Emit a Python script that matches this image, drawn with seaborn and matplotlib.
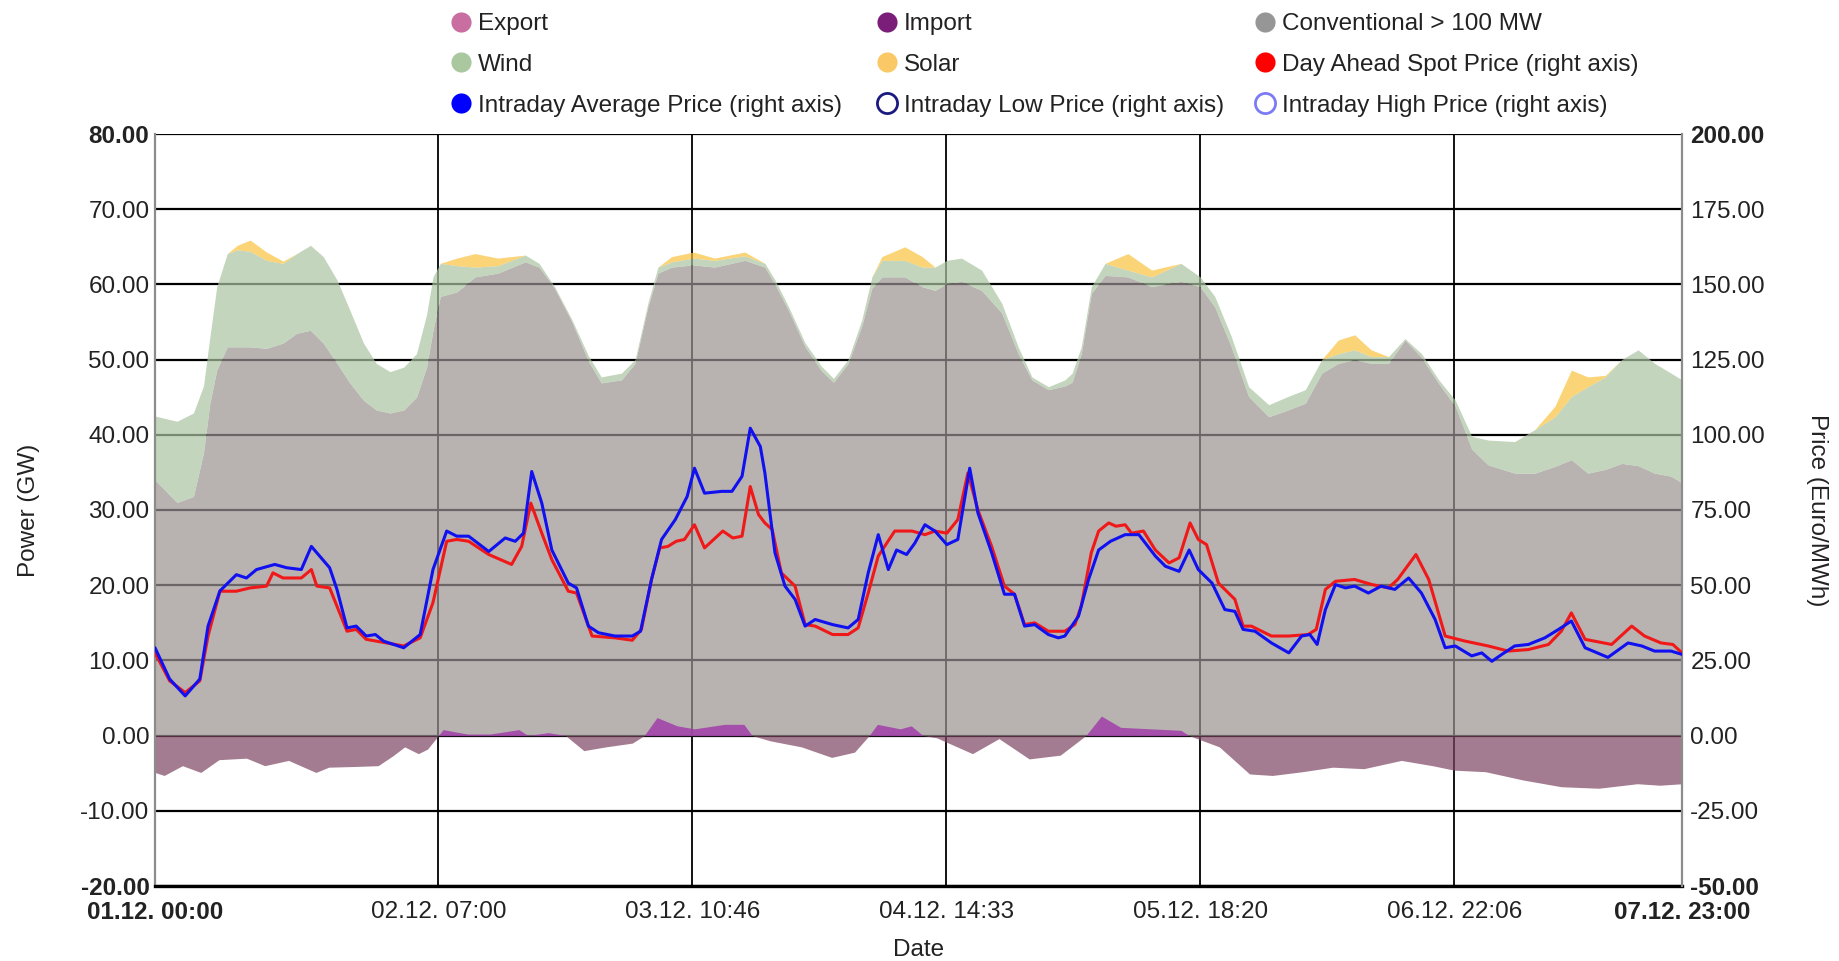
import numpy as np
import matplotlib
matplotlib.use("Agg")
import matplotlib.pyplot as plt
from matplotlib.lines import Line2D
import seaborn as sns

# ---------------- data ----------------
area_hours = [0, 2.4, 4.2, 5.3, 6, 6.75, 7.9, 9, 10.4, 12.2, 14, 15.5, 17, 18.4, 19.9, 21.3, 22.8,
              24.2, 25.7, 27.2, 28.6, 29.7, 30.4, 31.2, 33, 35, 37.5, 40.5, 42, 43.7, 45.6, 47.4,
              48.8, 51, 52.5, 53.9, 55, 56.5, 58.9, 61.2, 64.5, 66.7, 67.8, 69.3, 71.1, 72.9, 74.2,
              75.8, 77.3, 78.4, 79.5, 82, 83.9, 85.3, 86.6, 88.2, 90.4, 92.6, 94.4, 95.9, 97.7,
              99.5, 100.3, 101.3, 102.4, 103.9, 106.4, 109, 112.2, 114.3, 115.9, 117.7, 119.6,
              121.8, 123.9, 125.8, 127.6, 129.4, 131.2, 133, 134.9, 136.7, 138.5, 140.4, 142.2,
              144, 145.8, 148.7, 150.9, 153.1, 154.9, 156.7, 158.6, 160.4, 162.2, 164, 165.8, 167]
conventional = [34.0, 31.0, 31.8, 37.6, 44.2, 48.6, 51.7, 51.7, 51.7, 51.5, 52.2, 53.5, 53.9, 52.2, 49.5,
                46.9, 44.6, 43.3, 42.9, 43.3, 45.0, 49.0, 53.9, 58.4, 59.0, 61.0, 61.5, 63.0, 62.3,
                59.5, 55.0, 49.8, 46.9, 47.3, 49.5, 57.0, 61.5, 62.3, 62.6, 62.3, 63.2, 62.3, 60.0,
                56.5, 51.7, 48.5, 47.0, 49.5, 54.5, 59.5, 61.0, 61.0, 59.7, 59.2, 60.1, 60.4, 59.2,
                56.2, 50.8, 47.3, 46.0, 46.5, 47.0, 50.8, 58.8, 61.2, 61.0, 59.7, 60.4, 59.7, 57.0,
                51.7, 45.1, 42.4, 43.3, 44.2, 48.2, 49.5, 50.0, 49.5, 49.5, 52.6, 50.3, 46.8, 43.8,
                38.1, 36.0, 34.9, 34.9, 35.8, 36.7, 34.9, 35.4, 36.2, 35.9, 34.9, 34.5, 33.6]
wind = [8.5, 10.8, 11.1, 8.9, 8.8, 11.1, 12.4, 12.9, 12.7, 11.7, 10.6, 10.6, 11.3, 11.5, 11.1, 9.7,
        7.6, 6.2, 5.5, 5.7, 5.8, 7.0, 7.1, 4.4, 3.5, 1.3, 1.0, 0.9, 0.5, 0.2, 0.3, 0.7, 0.8, 0.9,
        0.5, 0.5, 0.8, 0.7, 0.9, 0.9, 0.6, 0.5, 0.6, 0.5, 0.5, 0.6, 0.5, 0.5, 0.8, 1.5, 2.2, 2.2,
        2.6, 3.1, 3.1, 3.1, 2.7, 1.3, 0.9, 0.4, 0.4, 0.8, 1.2, 0.9, 0.9, 1.6, 0.9, 1.3, 2.4, 1.3,
        1.4, 1.4, 1.3, 1.6, 1.8, 1.8, 1.8, 1.3, 1.3, 0.9, 0.9, 0.2, 0.5, 0.5, 0.8, 1.7, 3.3, 4.2,
        5.8, 6.6, 8.4, 11.5, 12.3, 13.8, 15.4, 14.6, 13.7, 13.7]
solar = [0, 0, 0, 0, 0, 0, 0, 0.6, 1.5, 1.1, 0.3, 0, 0, 0, 0, 0, 0, 0, 0, 0, 0, 0, 0, 0, 1.0, 1.8,
         1.0, 0, 0, 0, 0, 0, 0, 0, 0, 0, 0, 0.7, 0.8, 0.3, 0.5, 0, 0, 0, 0, 0, 0, 0, 0, 0, 0.5, 1.8,
         1.4, 0, 0, 0, 0, 0, 0, 0, 0, 0, 0, 0, 0, 0, 2.2, 0.9, 0, 0, 0, 0, 0, 0, 0, 0, 0, 1.8, 2.0,
         0.9, 0, 0, 0, 0, 0, 0, 0, 0, 0, 1.4, 3.5, 1.3, 0.2, 0, 0, 0, 0, 0]

flow_hours = [0, 1, 3, 5, 7, 10, 12, 14.6, 17.6, 19, 22, 24.4, 26, 27.3, 28.8, 29.8, 31, 31.5, 34.2,
              36.6, 39.8, 40.8, 43, 44.9, 46.9, 49.3, 52.2, 53.5, 54.9, 57.1, 59, 62.3, 64.4, 65.3,
              67.3, 70.7, 74, 76.5, 78.1, 79, 81.5, 82.7, 84, 85.5, 89.4, 92.3, 95.6, 99, 101.8,
              103.5, 105.6, 108.9, 112.2, 113.1, 116.4, 119.7, 122.2, 125.5, 128.8, 132.2, 136.3,
              139.7, 142.1, 145.5, 149.6, 153.8, 157.9, 162.1, 164.6, 167]
export = [-4.9, -5.3, -4.0, -4.9, -3.2, -3.0, -4.0, -3.3, -4.9, -4.2, -4.1, -4.0, -2.7, -1.5, -2.4,
          -1.8, 0, 0, 0, 0, 0, 0, 0, 0, -2.0, -1.5, -1.0, 0, 0, 0, 0, 0, 0, 0, -0.7, -1.5, -2.9,
          -2.2, 0, 0, 0, 0, 0, -0.3, -2.4, -0.4, -3.1, -2.6, 0, 0, 0, 0, 0, 0, -1.5, -5.1, -5.3,
          -4.8, -4.2, -4.4, -3.3, -4.0, -4.6, -4.8, -5.9, -6.8, -7.0, -6.4, -6.6, -6.4]
imports = [0, 0, 0, 0, 0, 0, 0, 0, 0, 0, 0, 0, 0, 0, 0, 0, 0, 0.8, 0.2, 0.2, 0.8, 0, 0.4, 0, 0, 0,
           0, 0, 2.4, 1.3, 0.9, 1.5, 1.5, 0, 0, 0, 0, 0, 0, 1.5, 0.9, 1.3, 0, 0, 0, 0, 0, 0, 0, 2.6,
           1.1, 0.9, 0.7, 0, 0, 0, 0, 0, 0, 0, 0, 0, 0, 0, 0, 0, 0, 0, 0, 0]

da_hours = [0, 1.6, 3.3, 4.9, 5.8, 7.1, 8.9, 10.4, 12.2, 12.9, 14, 16, 17.1, 17.7, 19.1, 21, 22, 23.1,
            27.2, 29, 30.4, 31.9, 33, 34.3, 36.5, 39, 40.1, 41.1, 42.3, 43.4, 45.2, 46.1, 47.8, 50.3,
            52.2, 53.2, 54.3, 55.2, 56.1, 57, 57.9, 59, 60.1, 62.1, 63.2, 64.2, 65.1, 66, 66.7, 67.5,
            68.5, 70, 71.1, 72.2, 74.1, 75.8, 76.9, 78, 79.1, 80.9, 82.8, 84.2, 85.3, 86.6, 87.8,
            88.9, 90, 91.5, 92.9, 94, 95.1, 96.2, 97.7, 99.5, 100.6, 101.3, 102.4, 103.2, 104.3,
            105.1, 106.1, 106.8, 108.1, 109.4, 110.9, 112, 113.2, 114.1, 115, 116.3, 118.1, 119,
            119.9, 122.1, 124, 126.1, 127, 128, 129.1, 131.2, 133.1, 134.9, 135.9, 137.9, 139.3,
            141.1, 143.3, 145.8, 148, 150.2, 152.4, 153.8, 154.9, 156.4, 159.3, 161.5, 162.9, 164.7,
            166, 167]
da_price = [27.5, 18.2, 14.3, 18.2, 33.1, 48.0, 48.0, 49.1, 49.7, 54.1, 52.4, 52.4, 55.2, 49.7, 49.1,
            34.7, 35.3, 32.0, 29.8, 32.5, 44.2, 64.6, 65.2, 64.6, 60.2, 56.9, 62.9, 77.3, 67.3, 58.5,
            48.0, 47.4, 33.1, 32.5, 31.7, 35.3, 51.9, 62.4, 62.9, 64.6, 65.2, 70.1, 62.4, 68.0, 65.7,
            66.3, 82.8, 73.5, 70.7, 68.5, 54.1, 49.7, 36.9, 36.4, 33.6, 33.6, 35.8, 47.4, 59.7, 68.0,
            68.0, 66.8, 68.0, 67.3, 71.8, 87.3, 75.0, 62.9, 49.7, 47.0, 36.9, 37.5, 34.7, 34.7, 36.9,
            43.1, 60.8, 68.0, 70.7, 69.6, 70.1, 67.3, 68.0, 61.7, 57.4, 59.1, 70.7, 65.2, 63.5, 50.7,
            45.3, 36.4, 36.4, 33.1, 33.1, 33.6, 35.3, 48.6, 51.3, 51.9, 50.2, 49.1, 51.9, 60.2, 51.9,
            33.1, 31.4, 29.8, 28.1, 28.6, 30.3, 34.7, 40.8, 32.0, 30.3, 36.4, 33.1, 30.8, 30.3, 27.5]

id_hours = [0, 1.6, 3.3, 4.9, 5.8, 7.1, 8.9, 10, 11.1, 13.1, 14.4, 16, 17.1, 19.1, 19.9, 21, 22, 23.1,
            24.1, 25, 27.2, 29, 30.4, 31.9, 33, 34.3, 36.5, 38.3, 39.4, 40.3, 41.2, 42.3, 43.4, 45.2,
            46.1, 47.4, 48.5, 50.3, 52.2, 53.1, 54.3, 55.4, 56.9, 58.2, 59, 60.1, 62, 63.1, 64.2,
            65.1, 66.2, 66.7, 67.8, 68.9, 70, 71.1, 72.2, 74.1, 75.8, 76.9, 78, 79.1, 80.2, 81.1,
            82.2, 83.1, 84.2, 85.3, 86.6, 87.8, 89.1, 90, 91.5, 92.9, 94, 95.1, 96.2, 97.7, 98.8,
            99.5, 101, 102.1, 103.2, 104.5, 106.1, 107.6, 109.4, 110.5, 112, 113.1, 114.1, 115.6,
            117, 118.1, 119, 120.3, 122.1, 124, 125.4, 126.3, 127.1, 128, 129.1, 130.2, 131.2, 132.7,
            134.1, 135.6, 137.1, 138.5, 140, 141.1, 142.2, 144, 145.1, 146.2, 147.3, 148.7, 150.2,
            152, 153.5, 154.9, 156.4, 158.9, 161.1, 162.6, 164, 165.8, 167]
id_price = [29.2, 18.8, 13.2, 18.8, 36.4, 48.1, 53.5, 52.4, 55.2, 56.9, 55.8, 55.2, 62.9, 55.8, 48.6,
            35.8, 36.4, 33.1, 33.6, 31.4, 29.2, 33.6, 55.2, 68.0, 66.3, 66.3, 61.2, 65.7, 64.6, 67.3,
            87.8, 77.3, 61.7, 50.7, 49.1, 36.4, 34.2, 33.1, 33.1, 34.7, 51.9, 65.2, 71.8, 79.5, 88.9,
            80.6, 81.2, 81.2, 86.2, 102.2, 96.1, 87.3, 60.8, 49.7, 45.3, 36.4, 38.6, 36.9, 35.8,
            38.6, 54.1, 66.8, 55.2, 61.7, 60.2, 64.0, 70.1, 68.0, 63.5, 65.2, 88.9, 74.0, 60.8, 47.0,
            47.0, 36.4, 36.9, 33.6, 32.5, 33.1, 39.7, 51.9, 61.7, 64.6, 66.8, 66.8, 59.7, 56.3, 54.6,
            61.7, 55.2, 50.7, 41.9, 41.3, 35.3, 34.7, 30.8, 27.5, 33.1, 33.6, 30.3, 41.9, 50.2, 49.1,
            49.7, 47.4, 49.7, 48.6, 52.4, 47.4, 38.6, 29.2, 29.8, 26.5, 27.5, 24.7, 27.0, 29.8, 30.3,
            32.5, 35.3, 38.1, 29.2, 26.0, 30.8, 29.8, 28.1, 28.1, 27.0]

tick_hours = [0, 31, 58.77, 86.55, 114.33, 142.1, 167]
tick_labels = ["01.12. 00:00", "02.12. 07:00", "03.12. 10:46", "04.12. 14:33",
               "05.12. 18:20", "06.12. 22:06", "07.12. 23:00"]
power_ticks = [-20, -10, 0, 10, 20, 30, 40, 50, 60, 70, 80]
price_ticks = [-50, -25, 0, 25, 50, 75, 100, 125, 150, 175, 200]

legend_names = ["Export", "Import", "Conventional > 100 MW",
                "Wind", "Solar", "Day Ahead Spot Price (right axis)",
                "Intraday Average Price (right axis)", "Intraday Low Price (right axis)",
                "Intraday High Price (right axis)"]

# ---------------- style ----------------
sns.set_theme(style="white")
plt.rcParams["font.family"] = ["Liberation Sans", "DejaVu Sans"]
FS = 17.5

W, H = 1840, 961
fig = plt.figure(figsize=(W / 100, H / 100), dpi=100)
L, R, T, B = 155, 1682, 134, 886
ax = fig.add_axes([L / W, 1 - B / H, (R - L) / W, (B - T) / H])
ax2 = ax.twinx()

# areas (left axis)
hrs = np.array(area_hours)
conv = np.array(conventional)
wnd = np.array(wind)
sol = np.array(solar)
ALPHA = 0.7
ax.fill_between(hrs, 0, conv, color="#9A9391", alpha=ALPHA, lw=0, zorder=1)
ax.fill_between(hrs, conv, conv + wnd, color="#ABC4A2", alpha=ALPHA, lw=0, zorder=1)
ax.fill_between(hrs, conv + wnd, conv + wnd + sol, color="#F8C23E", alpha=ALPHA, lw=0, zorder=1)
ax.fill_between(flow_hours, 0, export, color="#7E4562", alpha=ALPHA, lw=0, zorder=1.1)
ax.fill_between(flow_hours, 0, imports, color="#A13EA9", alpha=0.85, lw=0, zorder=1.2)

# grid below areas
for v in power_ticks:
    ax.axhline(v, color="black", lw=1.6, zorder=0.5)
for h in tick_hours[1:-1]:
    ax.axvline(h, color="black", lw=1.3, zorder=0.5)

ax.set_xlim(tick_hours[0], tick_hours[-1])
ax.set_ylim(power_ticks[0], power_ticks[-1])
ax2.set_ylim(price_ticks[0], price_ticks[-1])

# price lines (right axis)
sns.lineplot(x=da_hours, y=da_price, ax=ax2, color="#F01818", lw=2.2, legend=False, zorder=3)
sns.lineplot(x=id_hours, y=id_price, ax=ax2, color="#1010F0", lw=2.2, legend=False, zorder=4)

# ticks
ax.set_xticks(tick_hours)
ax.set_xticklabels(tick_labels, fontsize=FS)
ax.set_yticks(power_ticks)
ax.set_yticklabels([f"{v:.2f}" for v in power_ticks], fontsize=FS)
ax2.set_yticks(price_ticks)
ax2.set_yticklabels([f"{v:.2f}" for v in price_ticks], fontsize=FS)
for lab_list in (ax.get_xticklabels(), ax.get_yticklabels(), ax2.get_yticklabels()):
    lab_list[0].set_fontweight("bold")
    lab_list[-1].set_fontweight("bold")
ax.tick_params(axis="x", length=0, pad=10.5, colors="#222222")
ax.tick_params(axis="y", length=0, pad=4, colors="#222222")
ax2.tick_params(axis="y", length=0, pad=6, colors="#222222")
ax.set_xlabel("")
ax.set_ylabel("")
ax2.set_xlabel("")
ax2.set_ylabel("")
ax.grid(False)
ax2.grid(False)

# spines
for s in ("top", "right"):
    ax.spines[s].set_visible(False)
for s in ("top", "left", "bottom"):
    ax2.spines[s].set_visible(False)
ax.spines["left"].set_color("#8c8c8c")
ax.spines["left"].set_linewidth(1.6)
ax2.spines["right"].set_color("#8c8c8c")
ax2.spines["right"].set_linewidth(1.6)
ax.spines["bottom"].set_color("black")
ax.spines["bottom"].set_linewidth(2.4)

# axis titles
fig.text(29 / W, 1 - 510 / H, "Power (GW)", rotation=90, ha="center", va="center",
         fontsize=FS, color="#222222")
fig.text(1817 / W, 1 - 510 / H, "Price (Euro/MWh)", rotation=270, ha="center", va="center",
         fontsize=FS, color="#222222")
fig.text(919 / W, 1 - 950 / H, "Date", ha="center", va="center", fontsize=FS, color="#222222")

# legend: three columns placed like the reference
def circ(color, filled=True, edge=None):
    return Line2D([], [], marker="o", linestyle="none", markersize=14.5,
                  markerfacecolor=color if filled else "white",
                  markeredgecolor=edge if edge else color,
                  markeredgewidth=2.0 if not filled else 0.0)

handles = [circ("#C86EA0"), circ("#7A1E7A"), circ("#969696"),
           circ("#AAC8A0"), circ("#FAC864"), circ("#FF0000"),
           circ("#0000FF"), circ("#1A1A80", filled=False), circ("#7B7BF5", filled=False)]
col_x = [449, 875, 1253]
for c in range(3):
    idx = [c, c + 3, c + 6]
    leg = fig.legend([handles[i] for i in idx], [legend_names[i] for i in idx],
                     loc="upper left", bbox_to_anchor=(col_x[c] / W, 1 - 13 / H),
                     frameon=False, fontsize=FS, handlelength=1.0, handletextpad=0.2,
                     borderpad=0, borderaxespad=0, labelspacing=0.78)
    for t in leg.get_texts():
        t.set_color("#222222")

fig.savefig("out.png", dpi=100)
